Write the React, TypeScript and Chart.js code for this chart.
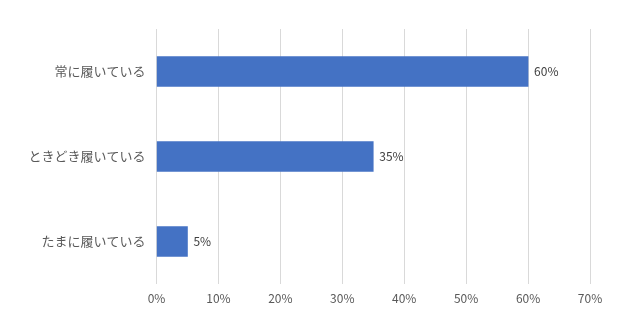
import React, { useEffect, useRef } from "react";
import { Chart, registerables } from "chart.js";

Chart.register(...registerables);

const categories = ["常に履いている", "ときどき履いている", "たまに履いている"];
const values = [60, 35, 5];
const xTicks = [0, 10, 20, 30, 40, 50, 60, 70];

const FONT = "'Noto Sans CJK JP', 'Noto Sans', sans-serif";

const valueLabels = {
  id: "valueLabels",
  afterDatasetsDraw(chart: any) {
    const ctx = chart.ctx;
    const meta = chart.getDatasetMeta(0);
    ctx.save();
    ctx.font = `12px ${FONT}`;
    ctx.fillStyle = "#404040";
    ctx.textAlign = "left";
    ctx.textBaseline = "middle";
    meta.data.forEach((bar: any, i: number) => {
      ctx.fillText(`${values[i]}%`, bar.x + 6, bar.y);
    });
    ctx.restore();
  },
};

export default function App() {
  const ref = useRef<HTMLCanvasElement | null>(null);
  useEffect(() => {
    document.body.style.margin = "0";
    const chart = new Chart(ref.current as HTMLCanvasElement, {
      type: "bar",
      data: {
        labels: categories,
        datasets: [
          {
            data: values,
            backgroundColor: "#4472C4",
            borderWidth: 0,
            barThickness: 30,
          },
        ],
      },
      options: {
        indexAxis: "y",
        animation: false,
        responsive: false,
        maintainAspectRatio: false,
        layout: { padding: { top: 29, right: 50, bottom: 0, left: 0 } },
        plugins: { legend: { display: false }, tooltip: { enabled: false } },
        scales: {
          x: {
            min: 0,
            max: 70,
            afterBuildTicks: (scale: any) => {
              scale.ticks = xTicks.map((v) => ({ value: v }));
            },
            afterFit: (scale: any) => {
              scale.height = 46;
            },
            grid: { color: "#d9d9d9", lineWidth: 1, drawTicks: false },
            border: { display: false },
            ticks: {
              padding: 7,
              color: "#595959",
              font: { family: FONT, size: 12 },
              callback: (v: any) => `${v}%`,
            },
          },
          y: {
            afterFit: (scale: any) => {
              scale.width = 156.5;
            },
            grid: { display: false, drawTicks: false },
            border: { display: false },
            ticks: {
              padding: 11,
              color: "#595959",
              font: { family: FONT, size: 13 },
            },
          },
        },
      },
      plugins: [valueLabels],
    });
    return () => chart.destroy();
  }, []);
  return (
    <div style={{ width: 640, height: 330, background: "#fff" }}>
      <canvas ref={ref} width={640} height={330} />
    </div>
  );
}
